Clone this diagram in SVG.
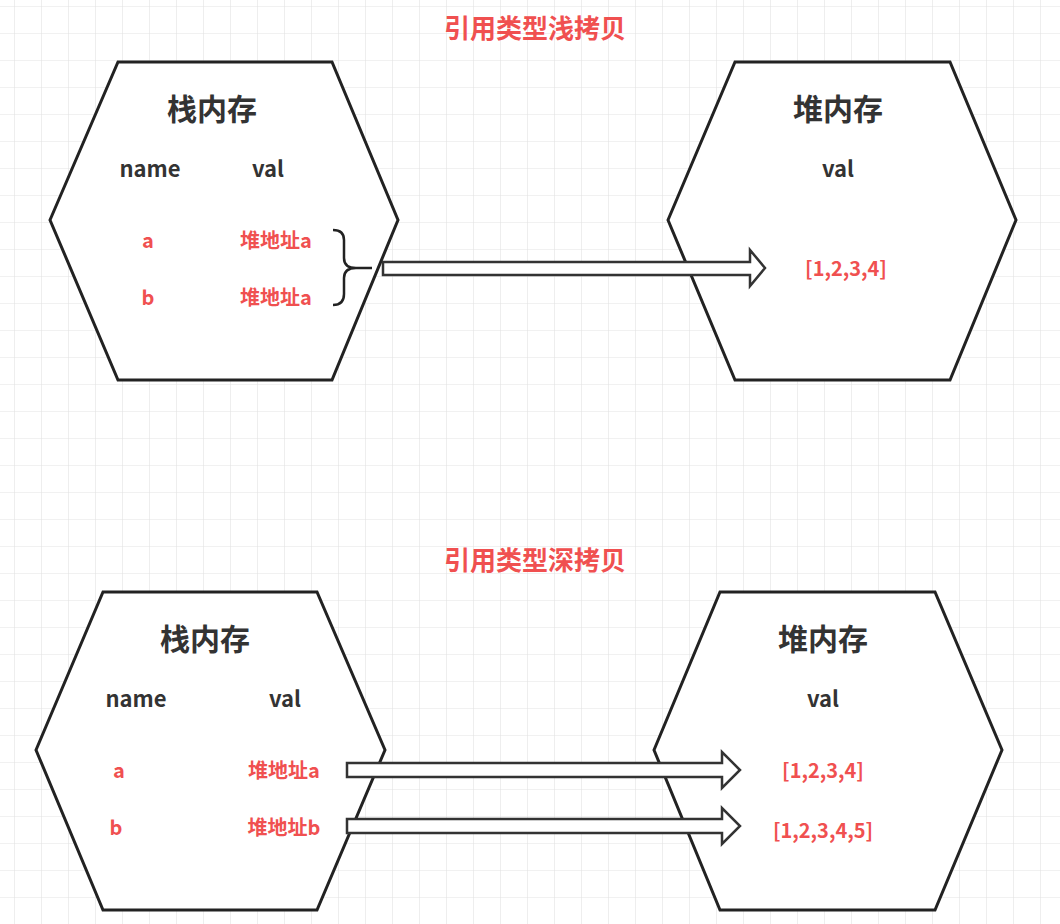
<svg xmlns="http://www.w3.org/2000/svg" width="1060" height="924" viewBox="0 0 1060 924">
<defs>
<pattern id="grid" x="14" y="6" width="27" height="27" patternUnits="userSpaceOnUse">
<path d="M0 0H27M0 0V27" fill="none" stroke="#e3e3e3" stroke-width="1.2"/>
</pattern>
</defs>
<style>
.hex{fill:#fff;stroke:#222;stroke-width:3}
.arr{fill:#fff;stroke:#333;stroke-width:2.5}
.t{font-family:"Noto Sans CJK SC","Liberation Sans",sans-serif;font-weight:bold}
.h{font-size:30px;fill:#333;text-anchor:middle}
.k{font-size:22px;fill:#333;text-anchor:middle}
.r{fill:#f05050;text-anchor:middle}
.title{font-size:26px}
.s{font-size:20px}
</style>
<rect width="1060" height="924" fill="#fff"/>
<rect width="1060" height="924" fill="url(#grid)"/>
<text class="t r title" x="535" y="38">引用类型浅拷贝</text>
<text class="t r title" x="535" y="570">引用类型深拷贝</text>
<g id="stack1">
<polygon class="hex" points="50,220 118,62 332,62 398,220 332,380 118,380"/>
<text class="t h" x="212" y="120">栈内存</text>
<text class="t k" x="150" y="177">name</text>
<text class="t k" x="268" y="177">val</text>
<text class="t r s" x="148" y="248">a</text>
<text class="t r s" x="148" y="305">b</text>
<text class="t r s" x="276" y="248">堆地址a</text>
<text class="t r s" x="276" y="305">堆地址a</text>
<path d="M333 230 Q344 230 344 240 V258 Q344 268 356 268 Q344 268 344 278 V294 Q344 305 333 305 M356 268 H372" fill="none" stroke="#222" stroke-width="2.5"/>
</g>
<g id="heap1">
<polygon class="hex" points="668,220 735,62 950,62 1016,220 950,380 735,380"/>
<text class="t h" x="838" y="120">堆内存</text>
<text class="t k" x="838" y="177">val</text>
<text class="t r s" x="846" y="276">[1,2,3,4]</text>
</g>
<g id="stack2">
<polygon class="hex" points="36,750 103,592 317,592 385,750 317,910 103,910"/>
<text class="t h" x="205" y="650">栈内存</text>
<text class="t k" x="136" y="707">name</text>
<text class="t k" x="285" y="707">val</text>
<text class="t r s" x="119" y="778">a</text>
<text class="t r s" x="116" y="835">b</text>
<text class="t r s" x="284" y="778">堆地址a</text>
<text class="t r s" x="284" y="835">堆地址b</text>
</g>
<g id="heap2">
<polygon class="hex" points="654,750 720,592 935,592 1002,750 935,910 720,910"/>
<text class="t h" x="823" y="650">堆内存</text>
<text class="t k" x="823" y="707">val</text>
<text class="t r s" x="823" y="778">[1,2,3,4]</text>
<text class="t r s" x="823" y="838">[1,2,3,4,5]</text>
</g>
<g id="connectors">
<polygon class="arr" points="383,262 750,262 750,250 765,268 750,286 750,275 383,275"/>
<polygon class="arr" points="347,763 722,763 722,752 740,770 722,788 722,777 347,777"/>
<polygon class="arr" points="347,819 722,819 722,808 740,826 722,844 722,833 347,833"/>
</g>
</svg>
